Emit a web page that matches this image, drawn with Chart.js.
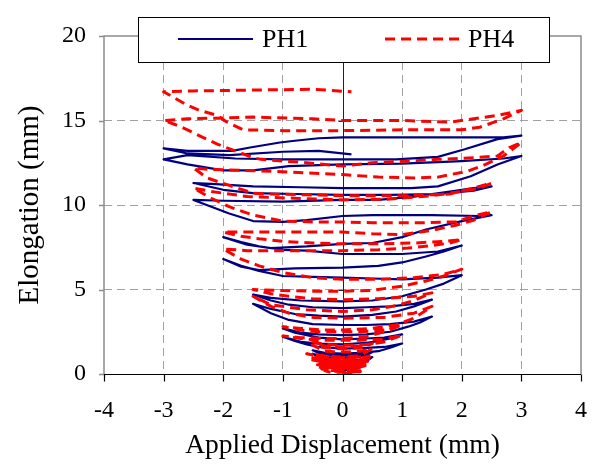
<!DOCTYPE html>
<html>
<head>
<meta charset="utf-8">
<script src="https://cdn.jsdelivr.net/npm/chart.js@4"></script>
<style>
  html, body { margin: 0; padding: 0; background: #fff; }
  #wrap { width: 592px; height: 468px; }
</style>
</head>
<body>
<div id="wrap"><canvas id="elongChart"></canvas></div>
<script>
const xTicks = [-4, -3, -2, -1, 0, 1, 2, 3, 4];
const yTicks = [0, 5, 10, 15, 20];
const seriesNames = ["PH1", "PH4"];

// PH1 – applied displacement (mm), read cycle by cycle
const ph1Disp = [
  0, 0.1, 0.25, 0.1, 0, -0.1, -0.25, -0.1, 0, 0.12, 0.25, 0.1, 0, -0.12, -0.25, -0.1, 0,
  0.25, 0.4, 0.5, 0.35, 0, -0.25, -0.4, -0.5, -0.3, 0, 0.25, 0.4, 0.5, 0.3, 0, -0.25, -0.4, -0.5, -0.3, 0,
  0.3, 0.6, 0.8, 1.0, 0.7, 0.4, 0, -0.4, -0.6, -0.8, -1.0, -0.7, -0.4, 0, 0.4, 0.6, 0.8, 1.0, 0.7, 0.4, 0, -0.4, -0.6, -0.8, -1.0, -0.7, -0.4, 0,
  0.4, 0.8, 1.1, 1.3, 1.5, 1.2, 0.8, 0.4, 0, -0.5, -0.9, -1.2, -1.5, -1.2, -0.8, -0.4, 0, 0.5, 0.9, 1.2, 1.5, 1.2, 0.8, 0.4, 0, -0.5, -0.9, -1.2, -1.5, -1.2, -0.7, 0,
  0.5, 1.0, 1.4, 1.7, 2.0, 1.6, 1.0, 0.5, 0, -0.5, -1.0, -1.4, -1.7, -2.0, -1.7, -1.4, -0.8, 0, 0.6, 1.0, 1.4, 1.7, 2.0, 1.6, 1.0, 0.5, 0, -0.6, -1.0, -1.4, -1.7, -2.0, -1.6, -1.2, -0.6, 0,
  0.5, 1.0, 1.4, 2.0, 2.5, 2.3, 1.5, 0.5, 0, -0.6, -1.0, -1.5, -1.9, -2.2, -2.5, -2.0, -1.0, 0, 0.6, 1.2, 1.8, 2.2, 2.5, 2.2, 1.6, 0.8, 0, -0.8, -1.5, -2.0, -2.5, -2.2, -1.5, -0.7, 0,
  0.6, 1.15, 1.6, 2.15, 2.6, 3.0, 2.7, 2.0, 1.0, 0, -0.9, -1.5, -2.0, -2.6, -3.0, -2.6, -1.8, -1.0, 0, 0.9, 1.6, 2.05, 2.6, 3.0, 2.7, 1.4, 0, -0.4, -0.8, -1.05, -1.55, -1.85, -2.6, -3.0, -2.6, -1.9, -1.0, -0.4, 0.15
];
// PH1 – elongation (mm)
const ph1Elong = [
  0, 0.05, 0.35, 0.25, 0.25, 0.3, 0.45, 0.35, 0.3, 0.35, 0.5, 0.4, 0.4, 0.45, 0.6, 0.5, 0.5,
  0.55, 0.75, 1.0, 0.85, 0.8, 0.85, 1.0, 1.2, 1.0, 0.95, 1.0, 1.1, 1.3, 1.15, 1.1, 1.15, 1.25, 1.4, 1.25, 1.2,
  1.25, 1.35, 1.55, 1.8, 1.6, 1.55, 1.5, 1.6, 1.75, 1.95, 2.2, 1.9, 1.8, 1.75, 1.85, 1.95, 2.1, 2.35, 2.15, 2.1, 2.05, 2.15, 2.3, 2.45, 2.7, 2.45, 2.35, 2.3,
  2.35, 2.5, 2.8, 3.05, 3.4, 3.1, 2.95, 2.9, 2.9, 2.95, 3.2, 3.6, 4.15, 3.85, 3.55, 3.45, 3.4, 3.5, 3.7, 4.0, 4.4, 4.15, 4.0, 3.95, 3.9, 3.95, 4.1, 4.35, 4.7, 4.5, 4.35, 4.3,
  4.35, 4.6, 5.0, 5.35, 5.85, 5.7, 5.6, 5.65, 5.7, 5.75, 5.8, 6.1, 6.4, 6.8, 6.35, 6.15, 6.25, 6.3, 6.4, 6.6, 6.95, 7.25, 7.6, 7.25, 7.1, 7.1, 7.1, 7.3, 7.35, 7.55, 7.8, 8.1, 7.65, 7.45, 7.55, 7.7,
  7.75, 8.1, 8.55, 9.05, 9.4, 9.35, 9.4, 9.4, 9.35, 9.1, 9.0, 9.05, 9.5, 9.9, 10.3, 10.25, 10.2, 10.3, 10.3, 10.5, 10.8, 11.0, 11.1, 10.85, 10.65, 10.6, 10.6, 10.65, 10.7, 10.9, 11.3, 11.25, 11.1, 11.05, 11.0,
  11.0, 11.0, 11.1, 11.7, 12.4, 12.9, 12.75, 12.6, 12.45, 12.4, 12.3, 12.05, 12.05, 12.4, 12.7, 12.95, 12.75, 12.7, 12.7, 12.7, 12.85, 13.3, 13.9, 14.1, 14.0, 14.0, 14.0, 13.95, 13.8, 13.7, 13.4, 13.2, 13.2, 13.35, 13.05, 12.95, 13.15, 13.2, 13.0
];

// PH4 – applied displacement (mm)
const ph4Disp = [
  0, 0.2, 0.3, 0.05, -0.2, -0.3, -0.05, 0.2, 0.32, 0.05, -0.2, -0.35, -0.1, 0.2, 0.35, 0.1, -0.2, -0.4, -0.1, 0.2, 0.38, 0.1, -0.2, -0.42, -0.15,
  0.2, 0.4, 0.1, -0.25, -0.45, -0.15, 0.2, 0.42, 0.1, -0.25, -0.5, -0.2, 0.2, 0.44, 0.15, -0.25, -0.55, -0.2, 0.2, 0.45, 0.15, -0.3, -0.6, -0.25, 0,
  0.3, 0.5, 0.3, 0, -0.3, -0.5, -0.3, 0, 0.3, 0.5, 0.3, 0, -0.3, -0.5, -0.3, 0,
  0.4, 0.7, 1.0, 0.7, 0.3, 0, -0.4, -0.7, -1.0, -0.7, -0.3, 0, 0.4, 0.7, 1.0, 0.7, 0.3, 0, -0.4, -0.7, -1.0, -0.7, -0.3, 0,
  0.5, 0.9, 1.2, 1.5, 1.2, 0.7, 0, -0.5, -0.9, -1.2, -1.5, -1.2, -0.6, 0, 0.5, 0.9, 1.2, 1.5, 1.2, 0.6, 0, -0.5, -0.9, -1.2, -1.5, -1.1, -0.5, 0,
  0.5, 1.0, 1.4, 1.7, 2.0, 1.7, 1.2, 0.6, 0, -0.5, -1.0, -1.4, -1.7, -2.0, -1.6, -0.8, 0, 0.6, 1.1, 1.5, 1.8, 2.0, 1.7, 1.2, 0.5, 0, -0.5, -1.0, -1.4, -1.7, -2.0, -1.5, -0.7, 0,
  0.5, 1.0, 1.5, 1.9, 2.2, 2.5, 2.2, 1.9, 1.3, 0.5, 0, -0.5, -1.0, -1.5, -1.9, -2.2, -2.5, -2.2, -1.6, -0.8, 0, 0.8, 1.5, 2.0, 2.3, 2.5, 2.2, 1.8, 1.0, 0, -0.6, -1.2, -1.5, -1.85, -2.27, -2.5, -2.2, -1.2, 0,
  0.6, 1.2, 1.6, 2.1, 2.4, 2.7, 3.0, 2.8, 2.6, 2.2, 1.6, 1.1, 0.5, 0, -0.6, -1.37, -1.5, -1.8, -2.1, -2.37, -2.6, -2.8, -3.0, -2.6, -1.5, -0.5, 0, 1.0, 1.8, 2.2, 2.6, 3.0, 2.7, 2.3, 2.0, 1.0, 0, -1.0, -1.67, -1.96, -2.1, -2.4, -2.6, -3.0, -2.5, -1.5, -0.5, 0.15
];
// PH4 – elongation (mm)
const ph4Elong = [
  0, 0.05, 0.15, 0.1, 0.1, 0.2, 0.15, 0.15, 0.25, 0.2, 0.2, 0.3, 0.25, 0.25, 0.35, 0.3, 0.3, 0.42, 0.35, 0.35, 0.48, 0.42, 0.42, 0.55, 0.5,
  0.5, 0.62, 0.56, 0.56, 0.68, 0.62, 0.62, 0.75, 0.68, 0.68, 0.82, 0.75, 0.75, 0.9, 0.82, 0.82, 0.98, 0.9, 0.9, 1.05, 0.98, 0.98, 1.2, 1.05, 1.0,
  1.1, 1.5, 1.35, 1.3, 1.35, 1.7, 1.55, 1.5, 1.55, 1.8, 1.65, 1.6, 1.65, 1.9, 1.75, 1.7,
  1.75, 1.9, 2.3, 2.05, 2.0, 2.0, 2.0, 2.1, 2.25, 2.15, 2.1, 2.1, 2.2, 2.5, 2.9, 2.6, 2.5, 2.5, 2.5, 2.6, 2.8, 2.7, 2.6, 2.6,
  2.7, 2.9, 3.3, 4.0, 3.6, 3.35, 3.3, 3.35, 3.6, 4.0, 4.6, 4.1, 3.8, 3.7, 3.8, 4.05, 4.35, 4.8, 4.6, 4.45, 4.4, 4.45, 4.6, 4.75, 5.0, 4.95, 4.9, 4.9,
  4.95, 5.2, 5.5, 5.8, 6.2, 5.9, 5.7, 5.6, 5.6, 5.7, 6.0, 6.4, 6.8, 7.4, 7.3, 7.3, 7.3, 7.35, 7.45, 7.6, 7.75, 7.95, 7.85, 7.75, 7.7, 7.7, 7.75, 7.85, 8.0, 8.15, 8.4, 8.4, 8.4, 8.4,
  8.3, 8.25, 8.5, 8.8, 9.1, 9.6, 9.35, 9.0, 8.95, 8.95, 9.0, 9.0, 9.05, 9.4, 9.9, 10.4, 11.0, 10.8, 10.5, 10.4, 10.3, 10.35, 10.55, 10.8, 11.0, 11.3, 11.0, 10.65, 10.55, 10.55, 10.6, 10.65, 10.7, 11.1, 11.6, 12.2, 12.1, 12.0, 11.8,
  11.65, 11.6, 11.65, 12.0, 12.4, 12.9, 13.7, 13.4, 12.9, 12.8, 12.7, 12.6, 12.5, 12.3, 12.5, 12.7, 12.8, 13.2, 13.6, 14.05, 14.45, 14.75, 15.0, 15.1, 15.2, 15.1, 15.0, 15.0, 14.9, 15.1, 15.3, 15.6, 15.1, 14.6, 14.45, 14.45, 14.4, 14.4, 14.45, 14.95, 15.3, 15.6, 15.9, 16.7, 16.75, 16.8, 16.85, 16.7
];

const serif = "'Liberation Serif', 'Times New Roman', serif";
const toPoints = (xs, ys) => xs.map((v, i) => ({ x: v, y: ys[i] }));

// axis frame: grey box, black x axis at y=0, black y axis at x=0
const frameLines = {
  id: "frameLines",
  beforeDatasetsDraw(chart) {
    const { ctx, chartArea: a, scales: { x, y } } = chart;
    ctx.save();
    ctx.strokeStyle = "#8c8c8c";
    ctx.lineWidth = 1.5;
    ctx.beginPath();
    ctx.moveTo(a.left, a.bottom);
    ctx.lineTo(a.left, a.top);
    ctx.lineTo(a.right, a.top);
    ctx.lineTo(a.right, a.bottom);
    yTicks.forEach(v => {
      const py = Math.round(y.getPixelForValue(v)) + 0.5;
      ctx.moveTo(a.left - 5, py);
      ctx.lineTo(a.left, py);
    });
    ctx.stroke();

    const x0 = Math.round(x.getPixelForValue(0)) + 0.5;
    ctx.strokeStyle = "#222";
    ctx.lineWidth = 1;
    ctx.beginPath();
    ctx.moveTo(x0, a.top);
    ctx.lineTo(x0, a.bottom);
    yTicks.forEach(v => {
      const py = Math.round(y.getPixelForValue(v)) + 0.5;
      ctx.moveTo(x0 - 5, py);
      ctx.lineTo(x0, py);
    });
    ctx.stroke();

    const yb = Math.round(y.getPixelForValue(0)) + 0.5;
    ctx.strokeStyle = "#000";
    ctx.lineWidth = 1.2;
    ctx.beginPath();
    ctx.moveTo(a.left, yb);
    ctx.lineTo(a.right, yb);
    xTicks.forEach(v => {
      const px = Math.round(x.getPixelForValue(v)) + 0.5;
      ctx.moveTo(px, yb);
      ctx.lineTo(px, yb + 7);
    });
    ctx.stroke();
    ctx.restore();
  }
};

// boxed legend sitting over the top of the plot
const boxLegend = {
  id: "boxLegend",
  afterDraw(chart) {
    const { ctx } = chart;
    const ds = chart.data.datasets;
    ctx.save();
    ctx.fillStyle = "#fff";
    ctx.fillRect(138, 17, 411, 45);
    ctx.strokeStyle = "#000";
    ctx.lineWidth = 1;
    ctx.strokeRect(138.5, 17.5, 411, 45);
    const items = [{ x1: 178, x2: 253, tx: 262 }, { x1: 385, x2: 460, tx: 468 }];
    items.forEach((it, i) => {
      ctx.strokeStyle = ds[i].borderColor;
      ctx.lineWidth = ds[i].borderWidth;
      ctx.setLineDash(ds[i].borderDash || []);
      ctx.beginPath();
      ctx.moveTo(it.x1, 39);
      ctx.lineTo(it.x2, 39);
      ctx.stroke();
      ctx.setLineDash([]);
      ctx.fillStyle = "#000";
      ctx.font = "26px " + serif;
      ctx.textBaseline = "middle";
      ctx.fillText(ds[i].label, it.tx, 40);
    });
    ctx.restore();
  }
};

const chart = new Chart(document.getElementById("elongChart"), {
  type: "scatter",
  data: {
    datasets: [
      {
        label: seriesNames[0],
        data: toPoints(ph1Disp, ph1Elong),
        showLine: true,
        borderColor: "#000080",
        borderWidth: 2.2,
        borderJoinStyle: "round",
        pointRadius: 0,
        tension: 0,
        order: 1
      },
      {
        label: seriesNames[1],
        data: toPoints(ph4Disp, ph4Elong),
        showLine: true,
        borderColor: "#ff0000",
        borderWidth: 3,
        borderDash: [10, 6],
        borderJoinStyle: "round",
        pointRadius: 0,
        tension: 0,
        order: 0
      }
    ]
  },
  options: {
    responsive: true,
    maintainAspectRatio: false,
    animation: false,
    layout: { padding: { top: 36, right: 11, left: 0, bottom: 0 } },
    scales: {
      x: {
        type: "linear",
        min: -4,
        max: 4,
        afterBuildTicks: s => { s.ticks = xTicks.map(v => ({ value: v })); },
        afterFit: s => { s.height = 94; s.paddingLeft = 0; s.paddingRight = 0; },
        ticks: { color: "#000", font: { family: serif, size: 24 }, padding: 22 },
        grid: {
          drawTicks: false,
          lineWidth: 1,
          color: c => (c.tick && (c.tick.value === 0 || Math.abs(c.tick.value) === 4)) ? "rgba(0,0,0,0)" : "#a0a0a0"
        },
        border: { display: false, dash: [8, 5] },
        title: {
          display: true,
          text: "Applied Displacement (mm)",
          color: "#000",
          font: { family: serif, size: 27.5, lineHeight: 1 },
          padding: { top: 0, bottom: 8 }
        }
      },
      y: {
        type: "linear",
        min: 0,
        max: 20,
        afterBuildTicks: s => { s.ticks = yTicks.map(v => ({ value: v })); },
        afterFit: s => { s.width = 104; s.paddingTop = 0; s.paddingBottom = 0; },
        ticks: { color: "#000", font: { family: serif, size: 24 }, padding: 18 },
        grid: {
          drawTicks: false,
          lineWidth: 1,
          color: c => (c.tick && (c.tick.value === 0 || c.tick.value === 20)) ? "rgba(0,0,0,0)" : "#a0a0a0"
        },
        border: { display: false, dash: [8, 5] },
        title: {
          display: true,
          text: "Elongation (mm)",
          color: "#000",
          font: { family: serif, size: 29, lineHeight: 1 },
          padding: { top: 16, bottom: 0 }
        }
      }
    },
    plugins: {
      legend: { display: false },
      tooltip: { enabled: false }
    }
  },
  plugins: [frameLines, boxLegend]
});
</script>
</body>
</html>
